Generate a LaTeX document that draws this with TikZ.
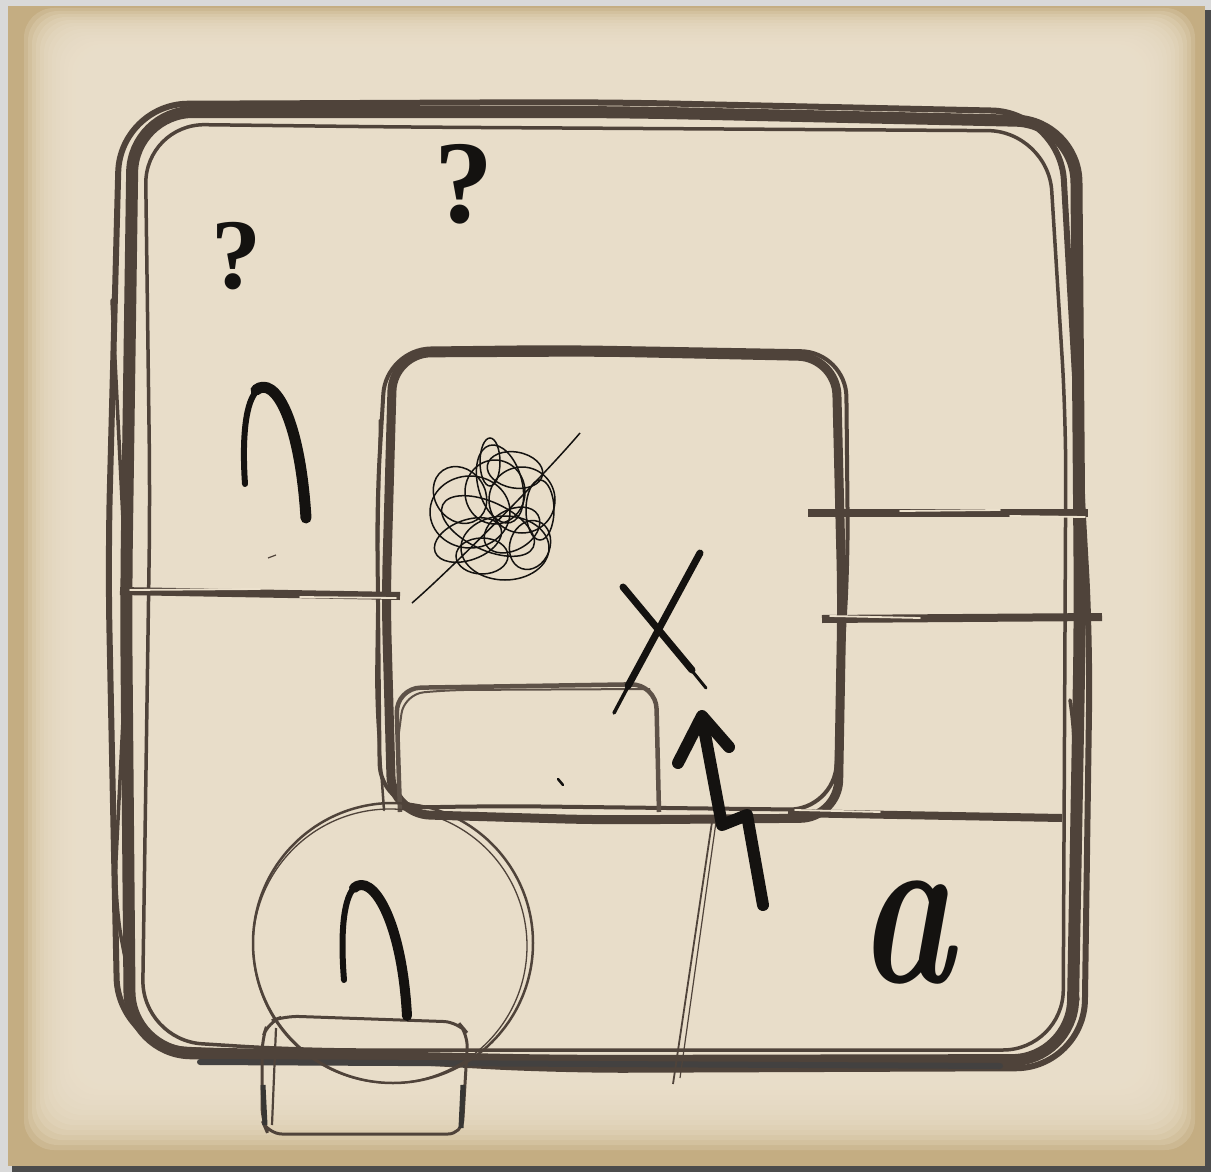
\documentclass[tikz,border=0pt]{standalone}
\usepackage{fontspec}
\usepackage{graphicx}
\newfontfamily\qfont{Liberation Serif}
\definecolor{paper}{HTML}{ECE1CD}
\definecolor{tanedge}{HTML}{C4AD82}
\definecolor{sk}{HTML}{4F433A}
\definecolor{sktwo}{HTML}{5E5248}
\definecolor{ink}{HTML}{141210}
\tikzset{
  skA/.style={draw=sk, line width=12, line cap=round, line join=round},
  skB/.style={draw=sk, line width=6, line cap=round, line join=round},
  skC/.style={draw=sk, line width=3.5, line cap=round, line join=round},
  plank/.style={draw=sk, line width=8, line cap=butt},
  streak/.style={draw=paper, line width=1.8, line cap=round},
  brush/.style={draw=ink, line width=11, line cap=round, line join=round},
  drybrush/.style={draw=ink, line width=6, line cap=round},
  scrib/.style={draw=ink, line width=1.5},
  qmark/.style={inner sep=0, anchor=base, text=ink, font=\qfont\bfseries\fontsize{118}{118}\selectfont},
}
\begin{document}
\begin{tikzpicture}[x=1pt, y=-1pt]
\useasboundingbox (0,0) rectangle (1211,1172);
% frame and paper
\fill[black!15] (0,0) rectangle (1211,1172);
\fill[black!70] (12,10) rectangle (1211,1172);
\fill[tanedge] (8,6) rectangle (1205,1166);
\foreach \i in {0,...,13} {
  \fill[paper, opacity=0.22, rounded corners=30] ({24+\i*4},{8+\i*3}) rectangle ({1195-\i*4},{1150-\i*5});
}
% outer square
\draw[skA, rounded corners=60] (620,112) -- (1076,122) -- (1080,620) -- (1072,1060) -- (560,1061) -- (130,1052) -- (126,600) -- (133,112) -- cycle;
\draw[skB, rounded corners=68] (600,102) -- (1060,112) -- (1090,640) -- (1084,1068) -- (560,1070) -- (118,1046) -- (108,560) -- (120,104) -- cycle;
\draw[skC, rounded corners=60] (400,127) -- (1048,131) -- (1066,420) -- (1063,1050) -- (300,1050) -- (142,1040) -- (150,500) -- (145,124) -- cycle;
\draw[skC, rounded corners=40] (112,300) -- (128,620) -- (114,900) -- (135,1010);
\draw[skC] (1070,700) .. controls (1085,800) and (1060,900) .. (1078,1000);
\draw[skB, draw=ink!80] (200,1062) -- (1000,1066);
% inner square
\draw[skA, line width=9, rounded corners=38] (600,352) -- (836,357) -- (842,600) -- (838,818) -- (600,820) -- (392,814) -- (386,600) -- (393,353) -- cycle;
\draw[skB, line width=4, rounded corners=45] (560,347) -- (846,352) -- (848,560) -- (834,810) -- (500,806) -- (380,808) -- (377,500) -- (386,349) -- cycle;
\draw[skC, line width=2.5, rounded corners=30] (380,420) -- (376,700) -- (384,810);
% small rounded rectangle
\draw[draw=sktwo, line width=4.5, rounded corners=25] (400,812) -- (396,688) -- (656,684) -- (659,812);
\draw[draw=sktwo, line width=2, rounded corners=20] (398,740) -- (404,694) -- (450,690) -- (650,689);
% planks
\draw[plank] (120,591) -- (400,596);
\draw[streak] (130,590) -- (260,589);
\draw[streak] (300,597) -- (396,598);
\draw[plank] (808,513) -- (1088,513);
\draw[streak] (900,511) -- (1000,510);
\draw[streak] (1010,516) -- (1085,517);
\draw[plank] (822,619) -- (1102,617);
\draw[streak] (830,616) -- (920,618);
\draw[plank] (788,813) -- (1062,818);
\draw[streak] (795,810) -- (880,812);
% needle line
\draw[sk, line width=1.8] (712,822) -- (673,1084);
\draw[sk, line width=1.2] (716,822) -- (680,1078);
% circle
\draw[sk, line width=2.5] (393,943) circle[radius=140];
\draw[sk, line width=1.3] (390,946) circle[radius=137];
% box under circle
\draw[sk, line width=3, rounded corners=14] (262,1040) -- (268,1022) -- (285,1016) -- (458,1022) -- (468,1034) -- (462,1134) -- (268,1134) -- (262,1120) -- cycle;
\draw[sk, line width=2.2] (276,1028) -- (272,1125);
\draw[ink!85, line width=5] (263,1085) -- (265,1125);
\draw[ink!85, line width=5] (463,1085) -- (461,1128);
% arch marks
\draw[drybrush] (245,484) .. controls (242,440) and (245,400) .. (258,390);
\draw[brush] (256,390) .. controls (275,375) and (300,420) .. (306,518);
\draw[drybrush] (344,980) .. controls (340,930) and (344,895) .. (356,886);
\draw[brush, line width=10] (354,888) .. controls (372,872) and (402,920) .. (407,1016);
% question marks
\node[qmark] (q1) at (464,222) {?};
\node[qmark, font=\qfont\bfseries\fontsize{100}{100}\selectfont] (q2) at (236,288) {?};
% letter a
\node[inner sep=0, anchor=base, text=ink, font=\bfseries\itshape\fontsize{225}{225}\selectfont] (la) at (906,982) {\scalebox{0.72}[1]{a}};
% scribble
\draw[scrib] (412,603) .. controls (450,570) and (540,480) .. (580,433);
\draw[scrib] (490,462) ellipse[x radius=10, y radius=24];
\draw[scrib] (470,512) ellipse[x radius=40, y radius=36];
\draw[scrib] (522,500) ellipse[x radius=33, y radius=33];
\draw[scrib] (505,548) ellipse[x radius=44, y radius=32];
\draw[scrib] (468,540) ellipse[x radius=35, y radius=20, rotate=20];
\draw[scrib] (495,492) ellipse[x radius=30, y radius=32];
\draw[scrib] (540,510) ellipse[x radius=14, y radius=30];
\draw[scrib] (488,526) ellipse[x radius=50, y radius=24, rotate=-25];
\draw[scrib] (500,484) ellipse[x radius=22, y radius=40, rotate=15];
\draw[scrib] (512,530) ellipse[x radius=30, y radius=20, rotate=30];
\draw[scrib] (482,556) ellipse[x radius=26, y radius=18];
\draw[scrib] (515,470) ellipse[x radius=28, y radius=18, rotate=-10];
\draw[scrib] (460,495) ellipse[x radius=25, y radius=30, rotate=35];
\draw[scrib] (530,545) ellipse[x radius=20, y radius=25, rotate=-20];
% X mark
\draw[ink, line width=7, line cap=round] (700,553) -- (628,686);
\draw[ink, line width=3.5, line cap=round] (640,664) -- (614,713);
\draw[ink, line width=7, line cap=round] (623,587) -- (692,670);
\draw[ink, line width=3, line cap=round] (680,656) -- (706,688);
% arrow
\draw[brush, line width=12] (763,905) -- (747,815) -- (722,825) -- (702,718);
\draw[brush, line width=12] (678,763) -- (702,716) -- (729,747);
% specks
\draw[ink, line width=2.5, line cap=round] (558,779) -- (563,785);
\draw[sk, line width=1.2] (268,558) -- (276,555);
\end{tikzpicture}
\end{document}
